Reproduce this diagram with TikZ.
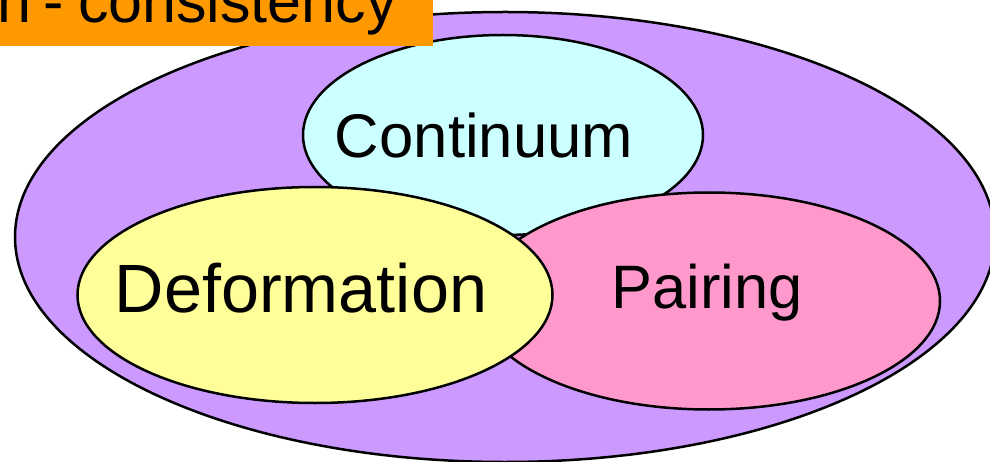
\documentclass[tikz,border=0pt]{standalone}
\usepackage{fontspec}
\setmainfont{Liberation Sans}
\usetikzlibrary{shapes.geometric}
\definecolor{setpurple}{HTML}{CC99FF}
\definecolor{setcyan}{HTML}{CCFFFF}
\definecolor{setyellow}{HTML}{FFFF99}
\definecolor{setpink}{HTML}{FF99CC}
\definecolor{setorange}{HTML}{FF9900}
\tikzset{
  setblob/.style={ellipse, draw=black, line width=2.5pt, inner sep=0pt},
  setlabel/.style={inner sep=0pt, anchor=base, text=black},
}
\begin{document}
\begin{tikzpicture}[x=1pt,y=-1pt]
\useasboundingbox (0,0) rectangle (990,462);
\node[setblob, fill=setpurple, minimum width=980pt, minimum height=450pt] (all) at (505,237) {};
\node[setblob, fill=setcyan, minimum width=400pt, minimum height=200pt] (cont) at (503,135) {};
\node[setblob, fill=setpink, minimum width=462pt, minimum height=217pt] (pair) at (709,301) {};
\node[setblob, fill=setyellow, minimum width=475pt, minimum height=216pt] (def) at (315,295) {};
\node[fill=setorange, inner sep=0pt, minimum width=443pt, minimum height=56pt, anchor=south east] (tagbox) at (433,46) {};
\node[setlabel, anchor=base east] (tag) at (397,23) {\fontsize{61pt}{70pt}\selectfont n\kern12pt-\kern14pt consistency};
\node[setlabel] (tcont) at (484,158) {\resizebox{298pt}{!}{Continuum}};
\node[setlabel] (tdef) at (301,312) {\resizebox{372pt}{!}{Deformation}};
\node[setlabel] (tpair) at (707,308) {\resizebox{191pt}{!}{Pairing}};
\end{tikzpicture}
\end{document}
